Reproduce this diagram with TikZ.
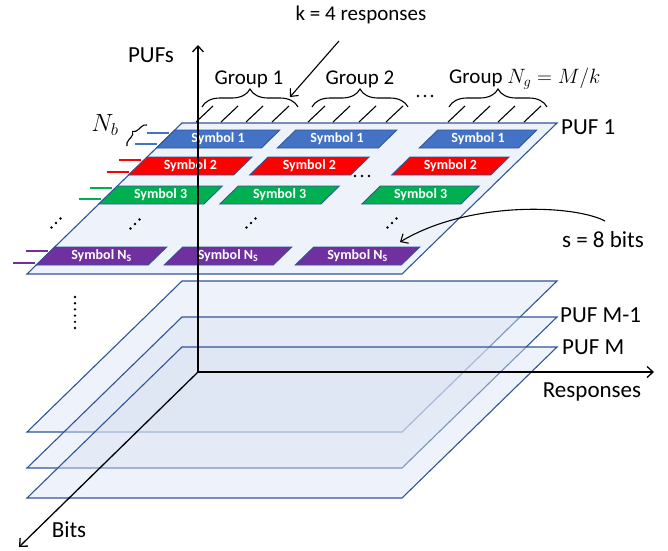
\documentclass[tikz,border=0pt]{standalone}
\usepackage{fontspec}
\setmainfont{Carlito}
\usetikzlibrary{decorations.pathreplacing,arrows.meta,calc}
\definecolor{edgeblue}{HTML}{2F5597}
\definecolor{planefill}{HTML}{D9E2F3}
\definecolor{symblue}{HTML}{4472C4}
\definecolor{symred}{HTML}{FF0000}
\definecolor{symgreen}{HTML}{00B050}
\definecolor{sympurple}{HTML}{7030A0}
\def\sh{1.0265}
\tikzset{
  planestyle/.style={draw=edgeblue, line width=1.1pt, fill=planefill, fill opacity=0.45, draw opacity=1},
  symshape/.style={draw=edgeblue, line width=0.9pt},
  symtext/.style={text=white, font=\fontsize{14}{16}\selectfont\bfseries, inner sep=0pt},
  lbl/.style={font=\fontsize{23}{27}\selectfont, inner sep=0pt},
  grp/.style={font=\fontsize{21}{25}\selectfont, inner sep=0pt},
  axis/.style={line width=1.3pt, -{Straight Barb[length=6pt,width=11pt,line width=1.3pt]}},
  pointer/.style={line width=1.1pt, -{Straight Barb[length=6pt,width=11pt,line width=1.1pt]}},
  bracestyle/.style={line width=1.1pt, decorate, decoration={brace, amplitude=#1}},
  hatch/.style={line width=1.1pt},
  rowline/.style={line width=1.2pt}
}
% #1 u, #2 v, #3 width, #4 colour, #5 text, #6 name
\newcommand{\symb}[6]{%
  \fill[#4, symshape] ({182+#1-\sh*#2},{123+#2}) -- ++(#3,0) -- ++({-\sh*18},18) -- ++(-#3,0) -- cycle;
  \node[symtext] (#6) at ({182+#1+#3/2-\sh*(#2+9)},{123+#2+9}) {#5};
}
% row marker line at screen y #1, colour #2
\newcommand{\rowmark}[2]{%
  \draw[rowline, #2] ({182-\sh*(#1-123)-25},#1) -- ({182-\sh*(#1-123)-3},#1);
}
\newcommand{\ddiag}[2]{%
  \foreach \k in {-1,0,1} \fill ({#1+4.5*\k},{#2-4.5*\k}) circle (1.3);
}
\newcommand{\hdots}[2]{%
  \foreach \k in {-1,0,1} \fill ({#1+7*\k},#2) circle (1.3);
}
\begin{document}
\begin{tikzpicture}[x=1pt,y=-1pt]
\useasboundingbox (0,0) rectangle (668,550);

% lower stack of planes
\foreach \yy in {281,317,347} {
  \filldraw[planestyle] (182,\yy) -- (557,\yy) -- ({402},{\yy+151}) -- ({27},{\yy+151}) -- cycle;
}
% top plane PUF 1
\filldraw[planestyle] (182,123) -- (557,123) -- (402,274) -- (27,274) -- cycle;

% symbols
\symb{0}{7}{105}{symblue}{Symbol 1}{s11}
\symb{121}{7}{101}{symblue}{Symbol 1}{s12}
\symb{263}{7}{99}{symblue}{Symbol 1}{s13}
\symb{0}{34}{105}{symred}{Symbol 2}{s21}
\symb{121}{34}{101}{symred}{Symbol 2}{s22}
\symb{263}{34}{99}{symred}{Symbol 2}{s23}
\symb{0}{63}{105}{symgreen}{Symbol 3}{s31}
\symb{121}{63}{101}{symgreen}{Symbol 3}{s32}
\symb{263}{63}{99}{symgreen}{Symbol 3}{s33}
\symb{0}{124}{112}{sympurple}{Symbol N\textsubscript{S}}{s41}
\symb{128}{124}{109}{sympurple}{Symbol N\textsubscript{S}}{s42}
\symb{259}{124}{106}{sympurple}{Symbol N\textsubscript{S}}{s43}

% row marker lines
\rowmark{133}{symblue}\rowmark{144}{symblue}
\rowmark{160}{symred}\rowmark{172}{symred}
\rowmark{188}{symgreen}\rowmark{199}{symgreen}
\rowmark{251}{sympurple}\rowmark{263}{sympurple}

% dots
\ddiag{56}{223}\ddiag{135}{224}\ddiag{251}{223}\ddiag{392}{223}
\hdots{362}{176}
\hdots{425}{96}
\foreach \k in {0,...,5} \fill (75,{297+6.2*\k}) circle (1.3);

% N_b brace
\draw[bracestyle=6pt] (127,146) -- (147,125);
\node[lbl] (nb) at (105,125) {$N_b$};

% hatch marks
\foreach \xx in {196,221,246,272,308,333,359,386,448,473,498,524}
  \draw[hatch] (\xx,122) -- ++(17,-16);

% group braces
\draw[bracestyle=18pt] (202,107) -- (298,107);
\draw[bracestyle=18pt] (312,107) -- (408,107);
\draw[bracestyle=18pt] (449,107) -- (547,107);
\node[grp] (g1) at (249,79) {Group 1};
\node[grp] (g2) at (360,79) {Group 2};
\node[grp, anchor=west] (g3) at (449,79) {Group $N_g = M/k$};

% axes
\coordinate (O) at (198,372);
\coordinate (ytip) at (198,45);
\coordinate (xtip) at (654,372);
\coordinate (ztip) at (19,547);
\draw[axis] (O) -- (ytip);
\draw[axis] (O) -- (xtip);
\draw[axis] (O) -- (ztip);

% labels
\node[lbl] (pufs) at (151,55) {PUFs};
\node[lbl] (resp) at (592,392) {Responses};
\node[lbl] (bits) at (69,530) {Bits};
\node[lbl, anchor=west] (puf1) at (561,127) {PUF 1};
\node[lbl, anchor=west] (pufm1) at (560,315) {PUF M-1};
\node[lbl, anchor=west] (pufm) at (562,347) {PUF M};
\node[grp] (kresp) at (361,15) {k = 4 responses};
\node[lbl] (sbits) at (603,240) {s = 8 bits};

% pointers
\coordinate (kstart) at (339,41);
\coordinate (ktip) at (290,97);
\draw[pointer] (kstart) -- (ktip);
\coordinate (sstart) at (605,221);
\coordinate (stip) at (400,242);
\draw[pointer] (sstart) .. controls (575,205) and (470,200) .. (stip);
\end{tikzpicture}
\end{document}
